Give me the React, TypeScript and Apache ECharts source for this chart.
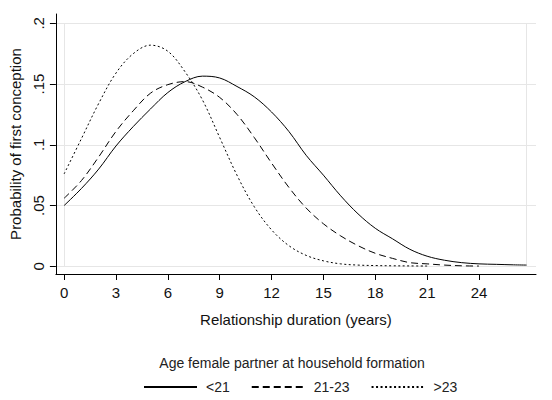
import React, { useEffect, useRef } from "react";
import * as echarts from "echarts";

// Relationship duration in years (x) at which the curves are sampled
const years = [0, 1, 2, 3, 4, 5, 6, 7, 8, 9, 10, 11, 12, 13, 14, 15, 16, 17, 18, 19, 20, 21, 22, 23, 24, 25, 26, 26.75];

// Probability of first conception by age of the female partner at household formation
const under21 = [
  0.05, 0.064, 0.08, 0.099, 0.115, 0.1295, 0.143, 0.152, 0.1565, 0.155, 0.148, 0.1395, 0.127, 0.111,
  0.0914, 0.075, 0.058, 0.0432, 0.0313, 0.0226, 0.014, 0.0083, 0.005, 0.003, 0.002, 0.0016, 0.0012, 0.001,
];
const age21to23 = [
  0.056, 0.0705, 0.09, 0.111, 0.128, 0.1425, 0.1495, 0.152, 0.1475, 0.139, 0.125, 0.106, 0.085, 0.065,
  0.048, 0.035, 0.025, 0.017, 0.0107, 0.0065, 0.003, 0.002, 0.001, 0.0004, 0.0002,
];
const over23 = [
  0.076, 0.105, 0.134, 0.159, 0.175, 0.182, 0.177, 0.16, 0.137, 0.106, 0.075, 0.049, 0.03, 0.017,
  0.009, 0.0045, 0.002, 0.001, 0.0006, 0.0004, 0.0003, 0.0002,
];

const seriesNames = ["<21", "21-23", ">23"];
const legendTitle = "Age female partner at household formation";
const xTicks = [0, 3, 6, 9, 12, 15, 18, 21, 24];
const yTicks = [0, 0.05, 0.1, 0.15, 0.2];
const yTickLabels = ["0", ".05", ".1", ".15", ".2"];

const FONT = '"Liberation Sans", Arial, sans-serif';

const toPairs = (vals: number[]) => vals.map((v, i) => [years[i], v]);

export default function App() {
  const ref = useRef<HTMLDivElement>(null);

  useEffect(() => {
    if (!ref.current) return;
    const chart = echarts.init(ref.current, null, { renderer: "svg" });

    const xFirst = years[0];
    const xLast = years[years.length - 1];
    const yTop = yTicks[yTicks.length - 1];

    const lineBase = {
      type: "line" as const,
      showSymbol: false,
      symbol: "none",
      smooth: 0.35,
      z: 3,
    };

    chart.setOption({
      animation: false,
      backgroundColor: "#ffffff",
      textStyle: { fontFamily: FONT },
      grid: { left: 50, right: 16, top: 14, bottom: 126, containLabel: false },
      xAxis: {
        type: "value",
        min: -0.474,
        max: 27.297,
        name: "Relationship duration (years)",
        nameLocation: "middle",
        nameGap: 38,
        nameTextStyle: { fontFamily: FONT, fontSize: 15, color: "#111" },
        axisLine: { show: true, onZero: false, lineStyle: { color: "#000", width: 1 } },
        axisTick: { show: true, length: 6, customValues: xTicks, lineStyle: { color: "#000" } },
        axisLabel: {
          customValues: xTicks,
          margin: 11,
          fontFamily: FONT,
          fontSize: 15,
          color: "#111",
        },
        splitLine: { show: false },
      },
      yAxis: {
        type: "value",
        min: -0.00634,
        max: 0.20765,
        name: "Probability of first conception",
        nameLocation: "middle",
        nameGap: 28,
        nameTextStyle: { fontFamily: FONT, fontSize: 15, color: "#111" },
        axisLine: { show: true, onZero: false, lineStyle: { color: "#000", width: 1 } },
        axisTick: { show: true, length: 6, customValues: yTicks, lineStyle: { color: "#000" } },
        axisLabel: {
          customValues: yTicks,
          rotate: 90,
          margin: 10,
          fontFamily: FONT,
          fontSize: 15,
          color: "#111",
          formatter: (v: number) => {
            const i = yTicks.findIndex((t) => Math.abs(t - v) < 1e-9);
            return i >= 0 ? yTickLabels[i] : "";
          },
        },
        splitLine: { show: true, lineStyle: { color: "#e6e6e6", width: 1 } },
      },
      legend: {
        left: 138,
        top: 375,
        itemWidth: 53,
        itemHeight: 14,
        itemGap: 21,
        data: seriesNames,
        // line-only keys: hide the marker that line series put on their legend icon
        itemStyle: { color: "transparent", borderColor: "transparent", borderWidth: 0, opacity: 0 },
        textStyle: { fontFamily: FONT, fontSize: 14, color: "#222", padding: [0, 0, 0, 4] },
      },
      graphic: [
        {
          type: "text",
          x: 292,
          y: 363,
          style: {
            text: legendTitle,
            fontFamily: FONT,
            fontSize: 14,
            fill: "#222",
            align: "center",
            verticalAlign: "middle",
          },
        },
      ],
      series: [
        {
          ...lineBase,
          name: seriesNames[0],
          data: toPairs(under21),
          lineStyle: { color: "#000", width: 1, type: "solid" },
          itemStyle: { color: "#000" },
          markLine: {
            silent: true,
            symbol: ["none", "none"],
            z: 1,
            label: { show: false },
            lineStyle: { color: "#e6e6e6", width: 1, type: "solid" },
            data: [
              [{ coord: [xFirst, 0] }, { coord: [xFirst, yTop] }],
              [{ coord: [xLast, 0] }, { coord: [xLast, yTop] }],
            ],
          },
        },
        {
          ...lineBase,
          name: seriesNames[1],
          data: toPairs(age21to23),
          lineStyle: { color: "#000", width: 1, type: [7, 4] },
          itemStyle: { color: "#000" },
        },
        {
          ...lineBase,
          name: seriesNames[2],
          data: toPairs(over23),
          lineStyle: { color: "#000", width: 1, type: [2, 2.5] },
          itemStyle: { color: "#000" },
        },
      ],
    });

    return () => chart.dispose();
  }, []);

  return (
    <div
      ref={ref}
      style={{ position: "absolute", left: 0, top: 0, width: 552, height: 400, background: "#fff" }}
    />
  );
}
